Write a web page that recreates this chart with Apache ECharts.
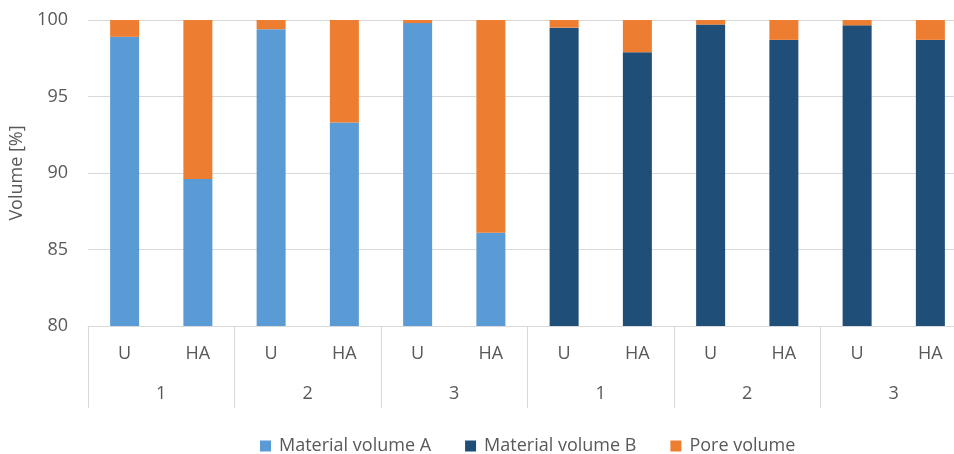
<!DOCTYPE html>
<html>
<head>
<meta charset="utf-8">
<script src="https://cdn.jsdelivr.net/npm/echarts@6/dist/echarts.min.js"></script>
<style>
  html, body { margin: 0; padding: 0; background: #ffffff; overflow: hidden; }
  /* the plot runs slightly past the right edge of the window */
  #chart { width: 980px; height: 454px; }
</style>
</head>
<body>
<div id="chart"></div>
<script>
// Treatment labels (inner axis row) and sample groups (outer axis row)
const treatments = ['U', 'HA', 'U', 'HA', 'U', 'HA', 'U', 'HA', 'U', 'HA', 'U', 'HA'];
const samples = ['1', '2', '3', '1', '2', '3'];

// Volume fractions in percent
const materialA = [98.9, 89.6, 99.4, 93.3, 99.8, 86.1, '-', '-', '-', '-', '-', '-'];
const materialB = ['-', '-', '-', '-', '-', '-', 99.5, 97.9, 99.7, 98.7, 99.65, 98.7];
const pore = [1.1, 10.4, 0.6, 6.7, 0.2, 13.9, 0.5, 2.1, 0.3, 1.3, 0.35, 1.3];

const yTicks = { min: 80, max: 100, interval: 5 };

const FONT = 'Open Sans';
const TEXT = '#595959';
const LINE = '#D9D9D9';

const chart = echarts.init(document.getElementById('chart'), null, { renderer: 'canvas' });

chart.setOption({
  animation: false,
  textStyle: { fontFamily: FONT },
  grid: { left: 88, top: 20, width: 879, height: 306, containLabel: false },
  legend: {
    left: 255,
    top: 432,
    icon: 'rect',
    itemWidth: 11,
    itemHeight: 11,
    itemGap: 34,
    textStyle: { fontFamily: FONT, fontSize: 18, color: TEXT, padding: [0, 0, 0, 3] },
    data: ['Material volume A', 'Material volume B', 'Pore volume']
  },
  xAxis: [
    {
      type: 'category',
      data: treatments,
      position: 'bottom',
      axisLine: { show: true, lineStyle: { color: LINE, width: 1 } },
      axisTick: { show: false },
      axisLabel: { interval: 0, margin: 19, fontFamily: FONT, fontSize: 18, color: TEXT }
    },
    {
      type: 'category',
      data: samples,
      position: 'bottom',
      axisLine: { show: false },
      axisTick: { show: true, interval: 0, length: 82, lineStyle: { color: LINE, width: 1 } },
      axisLabel: { interval: 0, margin: 59, fontFamily: FONT, fontSize: 18, color: TEXT }
    }
  ],
  yAxis: {
    type: 'value',
    min: yTicks.min,
    max: yTicks.max,
    interval: yTicks.interval,
    name: 'Volume [%]',
    nameLocation: 'middle',
    nameGap: 57,
    nameTextStyle: { fontFamily: FONT, fontSize: 18, color: TEXT },
    axisLine: { show: false },
    axisTick: { show: false },
    axisLabel: { margin: 20, fontFamily: FONT, fontSize: 18, color: TEXT },
    splitLine: { show: true, lineStyle: { color: LINE, width: 1 } }
  },
  series: [
    {
      name: 'Material volume A',
      type: 'bar',
      stack: 'vol',
      xAxisIndex: 0,
      barWidth: 29,
      itemStyle: { color: '#5B9BD5' },
      data: materialA
    },
    {
      name: 'Material volume B',
      type: 'bar',
      stack: 'vol',
      xAxisIndex: 0,
      barWidth: 29,
      itemStyle: { color: '#1F4E79' },
      data: materialB
    },
    {
      name: 'Pore volume',
      type: 'bar',
      stack: 'vol',
      xAxisIndex: 0,
      barWidth: 29,
      itemStyle: { color: '#ED7D31' },
      data: pore
    }
  ]
});
</script>
</body>
</html>
